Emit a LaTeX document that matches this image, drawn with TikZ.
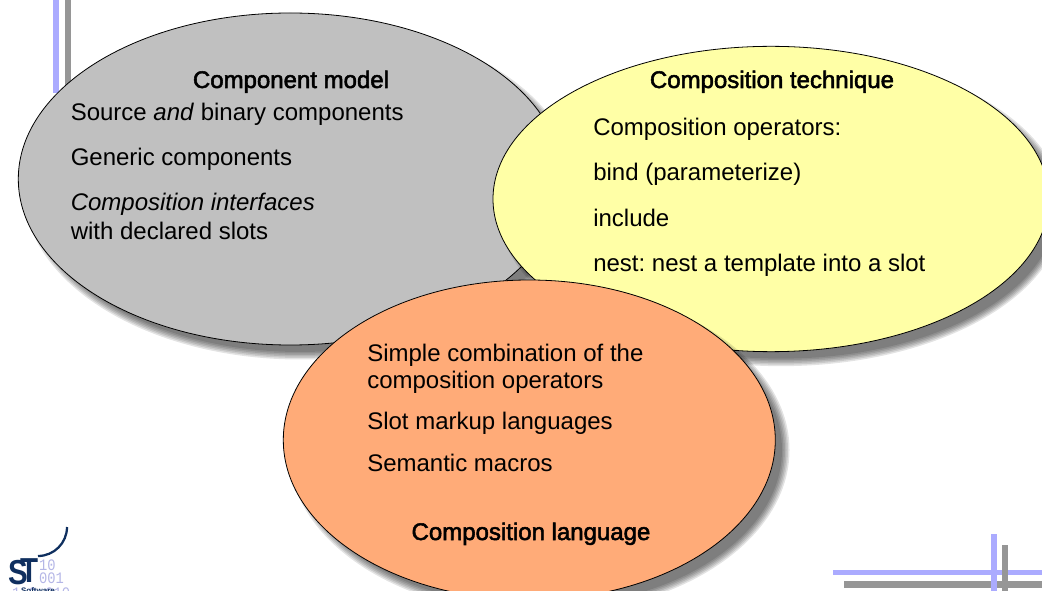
\documentclass[tikz,border=0pt]{standalone}
\usepackage{fontspec}
\setmainfont{Liberation Sans}
\setmonofont{Liberation Mono}
\newfontfamily\heavyfont[FakeBold=2.2]{Liberation Sans}
\usetikzlibrary{shapes.geometric}
\definecolor{lilac}{HTML}{ABABFF}
\definecolor{bargray}{HTML}{969696}
\definecolor{ellgray}{HTML}{C0C0C0}
\definecolor{ellyellow}{HTML}{FFFFA6}
\definecolor{ellorange}{HTML}{FFAB78}
\definecolor{logoblue}{HTML}{0F2F5F}
\definecolor{logodigit}{HTML}{B4B6E6}
\tikzset{
  x=0.75pt,y=-0.75pt,
  bubble/.style={ellipse,draw=black,line width=0.6pt,inner sep=0pt},
  halo/.style={ellipse,fill=black,inner sep=0pt,opacity=0.11},
  body/.style={anchor=base west,inner sep=0pt,font=\fontsize{18}{20}\selectfont\frenchspacing},
  headline/.style={anchor=base,inner sep=0pt,font=\fontsize{18}{20}\heavyfont},
  digit/.style={anchor=base west,inner sep=0pt,text=logodigit,xscale=0.86,font=\fontsize{12}{12}\ttfamily},
  logoletter/.style={anchor=base west,inner sep=0pt,text=logoblue,font=\fontsize{26}{26}\bfseries},
  lilacbar/.style={fill=lilac},
  graybar/.style={fill=bargray}
}
\newcommand{\softshadow}[4]{%
  \foreach \grow in {-3,-1.5,0,1.5,3,4.5}{%
    \node[halo,minimum width=#3+\grow*1.5pt,minimum height=#4+\grow*1.5pt] at (#1+10,#2+10) {};}}
\begin{document}
\begin{tikzpicture}
\useasboundingbox (0,0) rectangle (1042,591);
\clip (0,0) rectangle (1042,591);
% corner bars
\fill[graybar] (65,0) rectangle (71,100);
\fill[lilacbar] (53,0) rectangle (59,93);
\fill[graybar] (844,581) rectangle (1042,588);
\fill[lilacbar] (833,570) rectangle (1042,575);
\fill[graybar] (1002,545) rectangle (1008,591);
\fill[lilacbar] (991,534) rectangle (997,591);
% logo
\draw[logoblue,line width=1.7pt] (38,556) arc[start angle=90,end angle=0,radius=29];
\node[digit] (d1) at (39,570) {10};
\node[digit] (d2) at (39,583) {001};
\node[digit] (d3) at (12,598) {1 0 010};
\node[logoletter,xscale=0.85] (s) at (8,584) {S};
\node[logoletter,xscale=0.85] (t) at (20,582) {T};
\node[anchor=base,inner sep=0pt,text=logoblue,font=\fontsize{6}{6}\bfseries] (sw) at (38,593) {Software};
% ellipses
\softshadow{290}{179}{408pt}{249pt}
\node[bubble,fill=ellgray,minimum width=408pt,minimum height=249pt] (model) at (290.3,179) {};
\softshadow{771}{199}{417pt}{229pt}
\node[bubble,fill=ellyellow,minimum width=417pt,minimum height=229pt] (technique) at (771,199) {};
\softshadow{529}{440}{369pt}{240pt}
\node[bubble,fill=ellorange,minimum width=369pt,minimum height=240pt] (language) at (529.3,440) {};
% texts
\node[headline] (t1) at (291,88) {Component model};
\node[body] (a1) at (70.5,120.5) {Source \textit{and} binary components};
\node[body] (a2) at (70.5,165.5) {Generic components};
\node[body] (a3) at (70.5,210.5) {\textit{Composition interfaces}};
\node[body] (a4) at (70.5,239.5) {with declared slots};
\node[headline] (t2) at (772,88) {Composition technique};
\node[body] (b1) at (593,135.5) {Composition operators:};
\node[body] (b2) at (593,180.5) {bind (parameterize)};
\node[body] (b3) at (593,226.5) {include};
\node[body] (b4) at (593,271.5) {nest: nest a template into a slot};
\node[body] (c1) at (367,361.5) {Simple combination of the};
\node[body] (c2) at (367,388) {composition operators};
\node[body] (c3) at (367,429.5) {Slot markup languages};
\node[body] (c4) at (367,471) {Semantic macros};
\node[headline] (t3) at (531,540) {Composition language};
\end{tikzpicture}
\end{document}
